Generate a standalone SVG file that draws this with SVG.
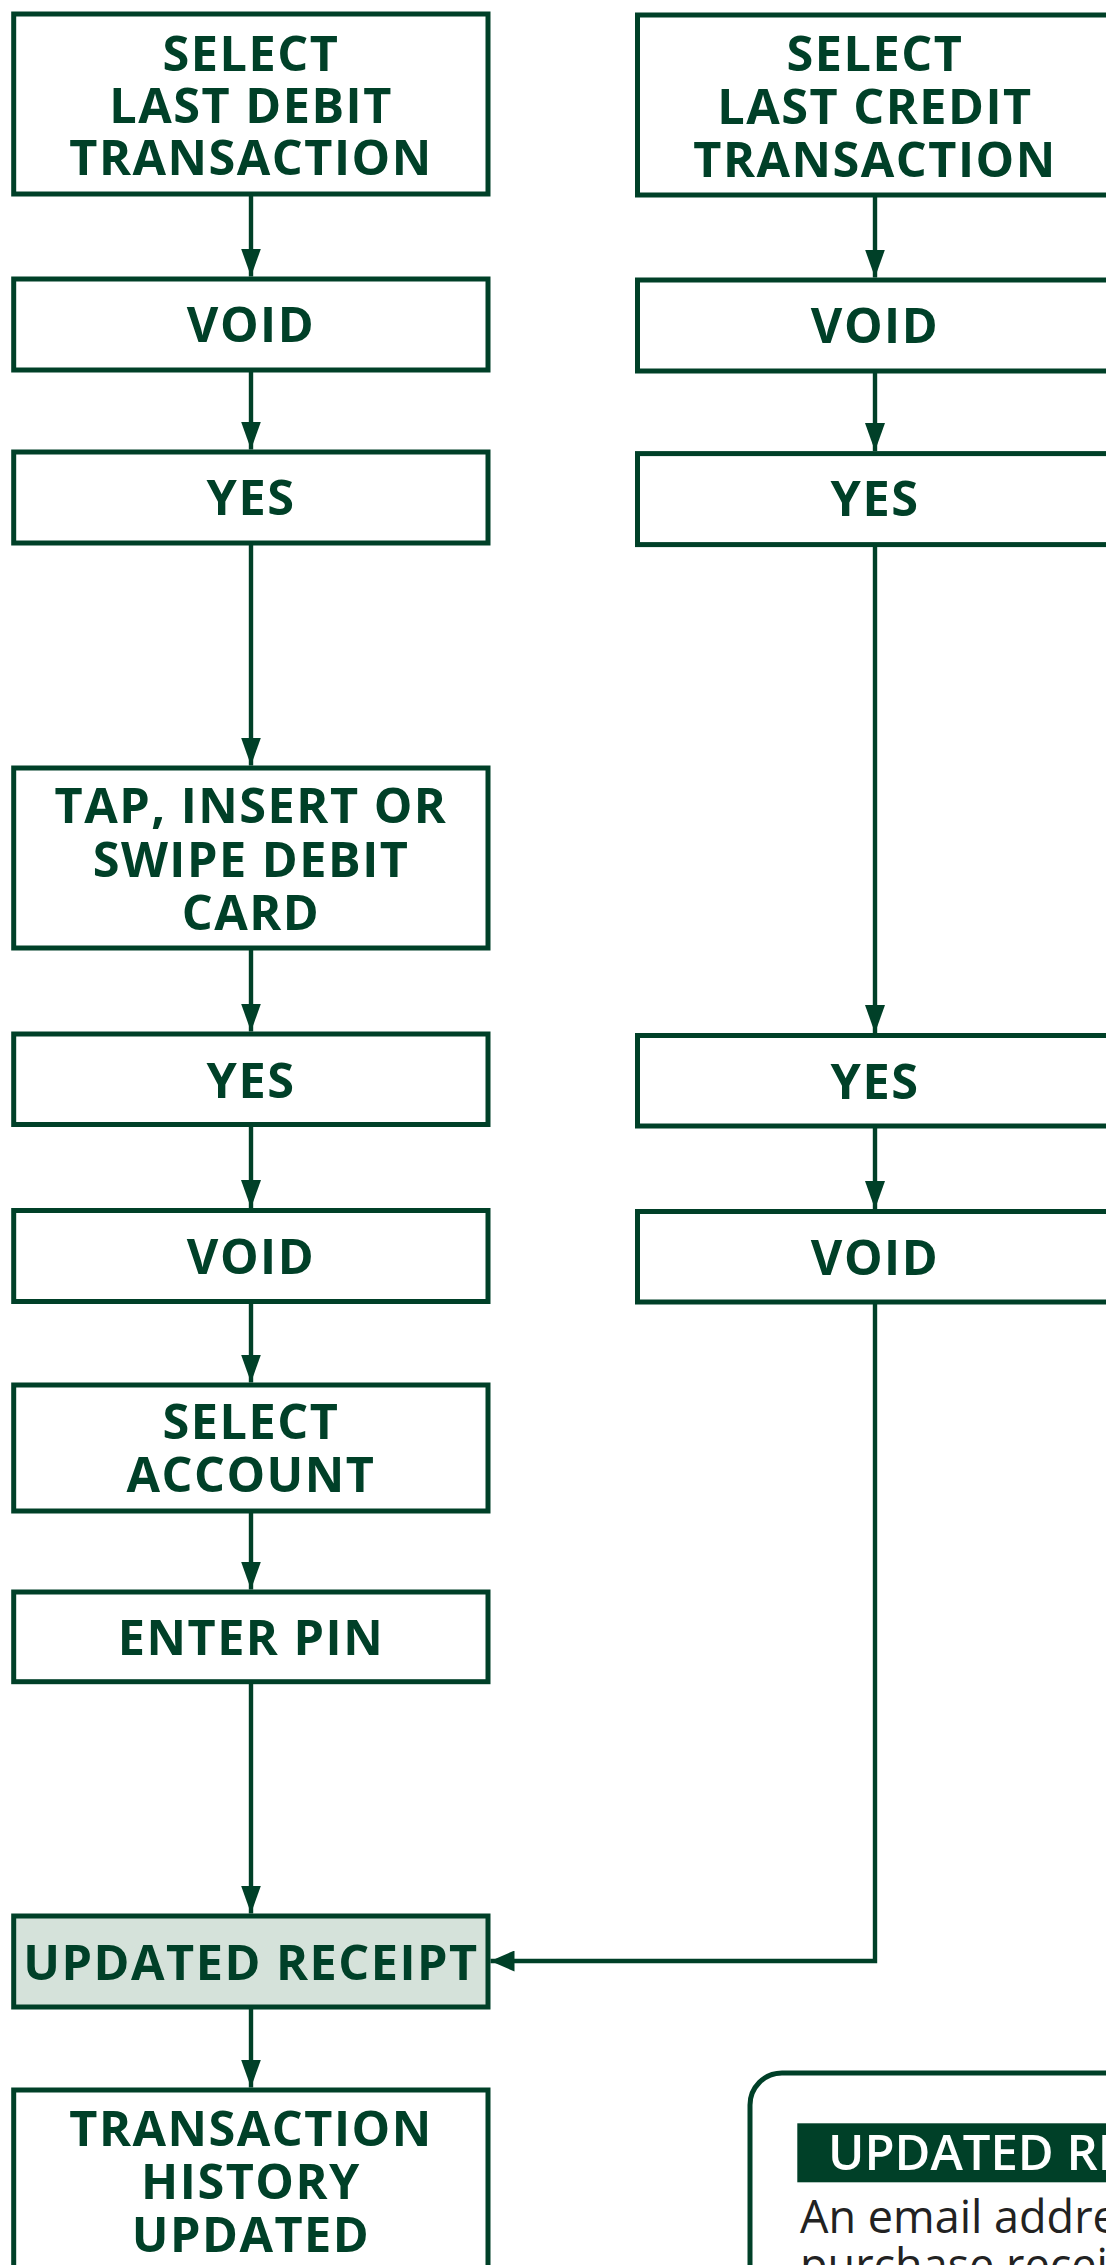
<svg xmlns="http://www.w3.org/2000/svg" width="1106" height="2265" viewBox="0 0 1106 2265">
<defs>
<style>
.box{fill:#ffffff;stroke:#004028;stroke-width:5}
.hl{fill:#d5e2da;stroke:#004028;stroke-width:5}
.t{font-family:"Open Sans","Liberation Sans",sans-serif;font-weight:700;font-size:48.6px;fill:#004028;text-anchor:middle;letter-spacing:1.5px}
.c{fill:none;stroke:#004028;stroke-width:4.4}
.hd{font-family:"Open Sans","Liberation Sans",sans-serif;font-weight:600;font-size:49px;fill:#ffffff}
.body{font-family:"Open Sans","Liberation Sans",sans-serif;font-weight:400;font-size:45px;fill:#222222}
</style>
<marker id="av" markerUnits="userSpaceOnUse" markerWidth="28" markerHeight="20" refX="28" refY="10" orient="auto">
<path d="M0,0 L28,10 L0,20 z" fill="#004028"/>
</marker>
<marker id="ah" markerUnits="userSpaceOnUse" markerWidth="24" markerHeight="21" refX="24" refY="10.5" orient="auto">
<path d="M0,0 L24,10.5 L0,21 z" fill="#004028"/>
</marker>
</defs>
<rect width="1106" height="2265" fill="#ffffff"/>
<g id="connectors">
<path class="c" d="M251,194 V276.5" marker-end="url(#av)"/>
<path class="c" d="M251,370 V449.5" marker-end="url(#av)"/>
<path class="c" d="M251,543 V765.5" marker-end="url(#av)"/>
<path class="c" d="M251,948 V1031.5" marker-end="url(#av)"/>
<path class="c" d="M251,1124.5 V1208" marker-end="url(#av)"/>
<path class="c" d="M251,1301.5 V1382.5" marker-end="url(#av)"/>
<path class="c" d="M251,1511 V1589.5" marker-end="url(#av)"/>
<path class="c" d="M251,1681.7 V1913.5" marker-end="url(#av)"/>
<path class="c" d="M251,2007 V2087.5" marker-end="url(#av)"/>
<path class="c" d="M875,195 V277.5" marker-end="url(#av)"/>
<path class="c" d="M875,371 V451" marker-end="url(#av)"/>
<path class="c" d="M875,544.6 V1033" marker-end="url(#av)"/>
<path class="c" d="M875,1126 V1209" marker-end="url(#av)"/>
<path class="c" d="M875,1302 V1961 H490.5" marker-end="url(#ah)"/>
</g>
<g id="n1"><rect class="box" x="13.7" y="14" width="474.3" height="180"/>
<text class="t"><tspan x="251" y="70.7">SELECT</tspan><tspan x="251" y="122.9">LAST DEBIT</tspan><tspan x="251" y="175">TRANSACTION</tspan></text></g>
<g id="n2"><rect class="box" x="13.7" y="279" width="474.3" height="91"/><text class="t" x="251" y="342">VOID</text></g>
<g id="n3"><rect class="box" x="13.7" y="452" width="474.3" height="91"/><text class="t" x="251" y="515">YES</text></g>
<g id="n4"><rect class="box" x="13.7" y="768" width="474.3" height="180"/>
<text class="t"><tspan x="251" y="822.7">TAP, INSERT OR</tspan><tspan x="251" y="876.5">SWIPE DEBIT</tspan><tspan x="251" y="930">CARD</tspan></text></g>
<g id="n5"><rect class="box" x="13.7" y="1034" width="474.3" height="90.5"/><text class="t" x="251" y="1098.3">YES</text></g>
<g id="n6"><rect class="box" x="13.7" y="1210.5" width="474.3" height="91"/><text class="t" x="251" y="1274">VOID</text></g>
<g id="n7"><rect class="box" x="13.7" y="1385" width="474.3" height="126"/>
<text class="t"><tspan x="251" y="1439.3">SELECT</tspan><tspan x="251" y="1492">ACCOUNT</tspan></text></g>
<g id="n8"><rect class="box" x="13.7" y="1592" width="474.3" height="89.7"/><text class="t" x="251" y="1655">ENTER PIN</text></g>
<g id="n9"><rect class="hl" x="13.7" y="1916" width="474.3" height="91"/><text class="t" x="251" y="1980">UPDATED RECEIPT</text></g>
<g id="n10"><rect class="box" x="13.7" y="2090" width="474.3" height="220"/>
<text class="t"><tspan x="251" y="2145.7">TRANSACTION</tspan><tspan x="251" y="2199">HISTORY</tspan><tspan x="251" y="2251.7">UPDATED</tspan></text></g>
<g id="r1"><rect class="box" x="637.5" y="15" width="475" height="180"/>
<text class="t"><tspan x="875" y="71">SELECT</tspan><tspan x="875" y="123.5">LAST CREDIT</tspan><tspan x="875" y="176.5">TRANSACTION</tspan></text></g>
<g id="r2"><rect class="box" x="637.5" y="280" width="475" height="91"/><text class="t" x="875" y="343">VOID</text></g>
<g id="r3"><rect class="box" x="637.5" y="453.6" width="475" height="91"/><text class="t" x="875" y="516">YES</text></g>
<g id="r4"><rect class="box" x="637.5" y="1035.5" width="475" height="90.5"/><text class="t" x="875" y="1099">YES</text></g>
<g id="r5"><rect class="box" x="637.5" y="1211.5" width="475" height="90.5"/><text class="t" x="875" y="1275">VOID</text></g>
<g id="note">
<rect class="box" x="750" y="2073" width="420" height="260" rx="32" ry="32"/>
<rect x="797.3" y="2123.3" width="340" height="59" fill="#004028"/>
<text class="hd" x="828" y="2170">UPDATED RECEIPT</text>
<text class="body"><tspan x="800" y="2233.3">An email address</tspan><tspan x="800" y="2281">purchase receipt</tspan></text>
</g>
</svg>
